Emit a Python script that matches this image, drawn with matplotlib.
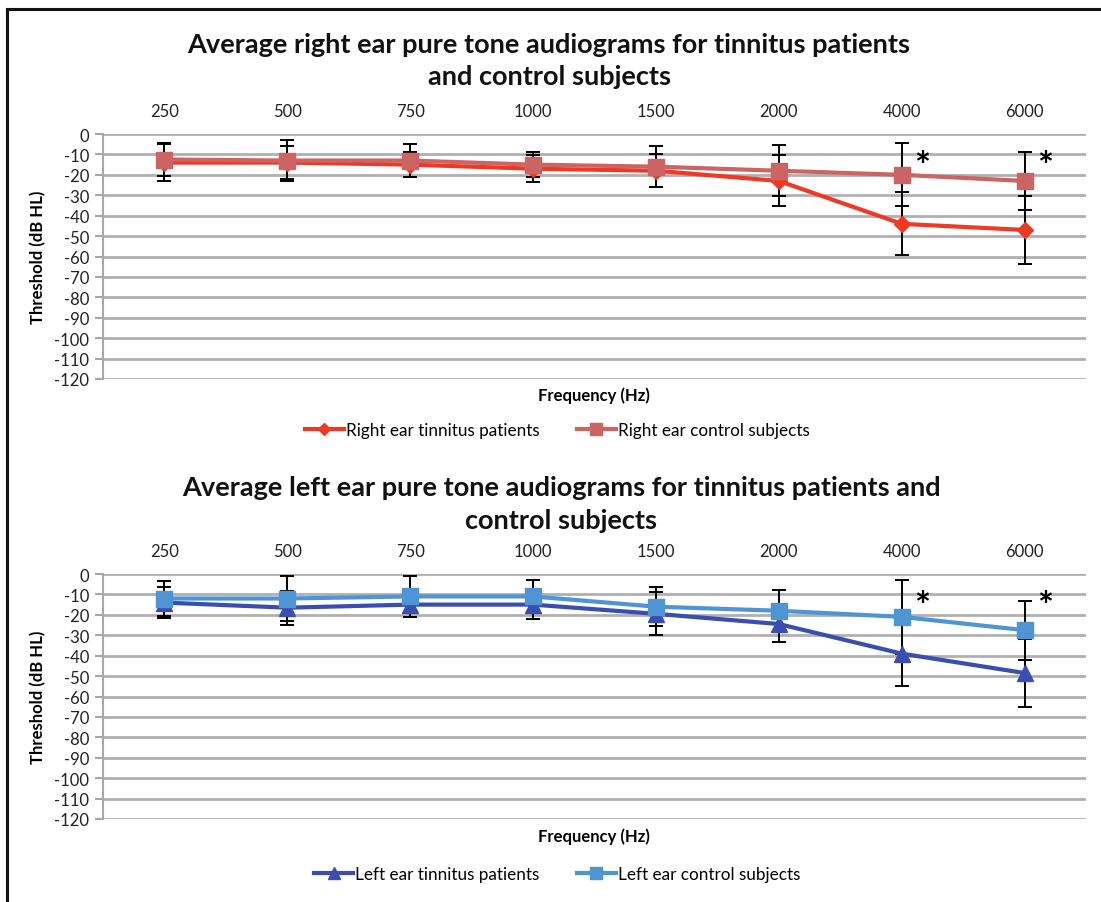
import matplotlib
matplotlib.use("Agg")
import matplotlib.pyplot as plt
from matplotlib.lines import Line2D

plt.rcParams['font.family'] = ['Lato', 'DejaVu Sans']

freqs = ["250", "500", "750", "1000", "1500", "2000", "4000", "6000"]
y_ticks = list(range(0, -130, -10))

right_tinnitus = [-14, -14, -15, -17, -18, -23, -44, -47]
right_tinnitus_sd = [9, 8, 6, 6.5, 8, 12.5, 15.5, 16.5]
right_control = [-12.5, -13, -13, -15, -16, -18, -20, -23]
right_control_sd = [8, 10, 8, 6, 10, 12.5, 15.5, 14]

left_tinnitus = [-14, -16.5, -15, -15, -19.5, -24.5, -39, -48.5]
left_tinnitus_sd = [7.5, 8.3, 6, 7, 10.5, 9, 16, 16.5]
left_control = [-12, -12, -11, -11, -16, -18, -21, -27.5]
left_control_sd = [8.5, 11, 10, 8, 9.5, 10, 18, 14.5]

significant = ["4000", "6000"]

W, H = 1101, 903
fig = plt.figure(figsize=(W / 100, H / 100), dpi=100)

def fx(px):
    return px / W

def fy(py):
    return 1 - py / H

def panel(top_px, title_lines, title_cx, series, xlabel_py, legend_py):
    ax = fig.add_axes([fx(103), fy(top_px + 245), fx(1086) - fx(103), (245) / H])
    x = list(range(len(freqs)))
    for mean, sd, color, marker, ms, label in series:
        ax.errorbar(x, mean, yerr=sd, fmt='none', ecolor='black', elinewidth=1.4,
                    capsize=5, capthick=1.4, zorder=3)
    handles = []
    for mean, sd, color, marker, ms, label in series:
        h, = ax.plot(x, mean, color=color, marker=marker, markersize=ms, lw=3,
                     markeredgecolor=color, label=label, zorder=4)
        handles.append(h)
    ax.set_xlim(-0.5, len(freqs) - 0.5)
    ax.set_ylim(-120, 0)
    ax.set_yticks(y_ticks)
    ax.set_yticklabels([str(v) for v in y_ticks], fontsize=12, color='#222222')
    ax.set_xticks(x)
    ax.set_xticklabels(freqs, fontsize=12, color='#222222')
    ax.xaxis.tick_top()
    ax.tick_params(axis='x', length=0, pad=11)
    ax.tick_params(axis='y', length=6, width=1.5, color='#a8a8a8', pad=4)
    for s in ['top', 'right', 'bottom']:
        ax.spines[s].set_visible(False)
    ax.spines['left'].set_color('#a8a8a8')
    ax.spines['left'].set_linewidth(1.5)
    ax.yaxis.grid(True, color='#b0b0b0', lw=2)
    ax.set_axisbelow(True)
    for f in significant:
        i = freqs.index(f)
        ax.annotate('*', xy=(i, -16), xytext=(14.5, 0), textcoords='offset points',
                    fontsize=27, fontweight='bold', ha='center', va='center')
    fig.text(fx(594), fy(xlabel_py), 'Frequency (Hz)', fontsize=12, fontweight='bold',
             ha='center', va='center')
    fig.text(fx(38), fy(top_px + 122), 'Threshold (dB HL)', fontsize=12, fontweight='bold',
             ha='center', va='center', rotation=90)
    for i, (t, py) in enumerate(title_lines):
        fig.text(fx(title_cx), fy(py), t, fontsize=19.5, fontweight='bold',
                 ha='center', va='center', color='#111111')
    fig.legend(handles=handles, loc='center', bbox_to_anchor=(fx(557), fy(legend_py)),
               ncol=2, frameon=False, fontsize=12.3, handlelength=2.3, columnspacing=2.2,
               handletextpad=0.1, markerscale=0.75)
    return ax

panel(135,
      [("Average right ear pure tone audiograms for tinnitus patients", 45),
       ("and control subjects", 77)], 549,
      [(right_tinnitus, right_tinnitus_sd, '#ee3a24', 'D', 8, 'Right ear tinnitus patients'),
       (right_control, right_control_sd, '#cd6464', 's', 12, 'Right ear control subjects')],
      396, 431)

panel(575,
      [("Average left ear pure tone audiograms for tinnitus patients and", 488),
       ("control subjects", 521)], 561,
      [(left_tinnitus, left_tinnitus_sd, '#3a4db0', '^', 11, 'Left ear tinnitus patients'),
       (left_control, left_control_sd, '#4f95d6', 's', 12, 'Left ear control subjects')],
      837, 875)

fig.add_artist(Line2D([fx(7), fx(7)], [fy(10), 0], color='#111111', lw=2.2))
fig.add_artist(Line2D([fx(7), 1], [fy(10), fy(10)], color='#111111', lw=2.2))

fig.savefig('out.png', dpi=100)
